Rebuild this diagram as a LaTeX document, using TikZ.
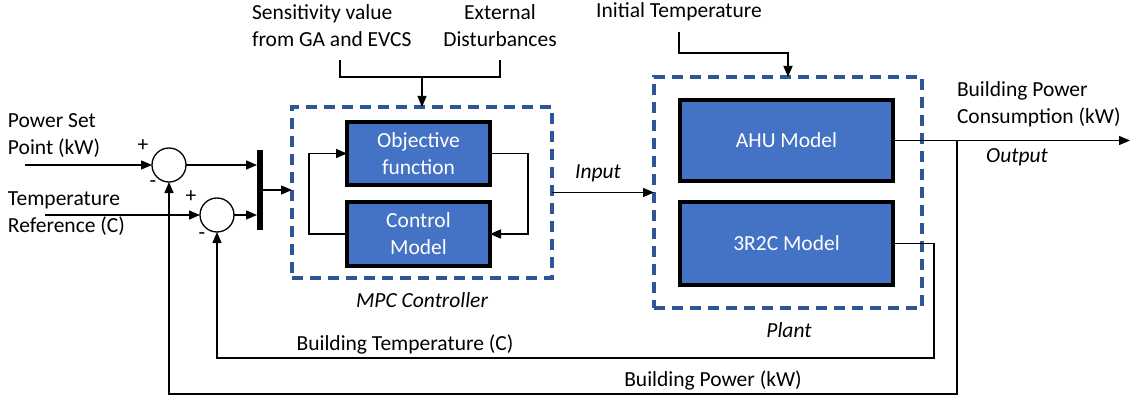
\documentclass[tikz,border=0pt]{standalone}
\usepackage{fontspec}
\setmainfont{Carlito}
\usetikzlibrary{arrows.meta,positioning}
\definecolor{boxblue}{HTML}{4472C4}
\definecolor{dashblue}{HTML}{2F5597}
\begin{document}
\begin{tikzpicture}[x=1pt,y=-1pt,
  every node/.style={font=\fontsize{21.5}{27}\selectfont, inner sep=0pt, outer sep=0pt},
  arr/.style={line width=1.3pt, -{Triangle[length=11pt,width=9pt]}},
  ln/.style={line width=1.3pt},
  sumnode/.style={draw, circle, line width=1.3pt, minimum size=34pt},
  dashbox/.style={draw=dashblue, line width=4pt, dash pattern=on 11pt off 7pt},
  model/.style={draw=black, fill=boxblue, line width=4.5pt, text=white, align=center},
  lbl/.style={align=left, anchor=west},
  ilbl/.style={font=\fontsize{21.5}{27}\selectfont\itshape}
]
\useasboundingbox (0,0) rectangle (1135,401);

% summing junctions and mux
\node[sumnode] (s1) at (169,165) {};
\node[sumnode] (s2) at (217,215) {};
\node[fill=black, minimum width=6pt, minimum height=80pt] (mux) at (260,190) {};

% MPC controller
\node[dashbox, minimum width=260pt, minimum height=171pt] (mpc) at (422,192.5) {};
\node[model, minimum width=143pt, minimum height=63pt] (obj) at (418.5,153.5) {Objective\\function};
\node[model, minimum width=143pt, minimum height=64pt] (ctrl) at (418.5,234) {Control\\Model};
\node[ilbl] (mpclbl) at (422,300) {MPC Controller};

% Plant
\node[dashbox, minimum width=268pt, minimum height=231pt] (plant) at (788,192.5) {};
\node[model, minimum width=213pt, minimum height=81pt] (ahu) at (786.5,140.5) {AHU Model};
\node[model, minimum width=213pt, minimum height=83pt] (r2c) at (786.5,243.5) {3R2C Model};
\node[ilbl] (plantlbl) at (789,330) {Plant};

% left labels
\node[lbl] (psp) at (8,136) {Power Set\\Point (kW)};
\node[lbl] (tref) at (8,213.5) {Temperature\\Reference (C)};
\node (p1) at (143,146) {+};
\node (m1) at (153,184) {-};
\node (p2) at (191,197) {+};
\node (m2) at (202,236) {-};

% top labels
\node[lbl] (sens) at (252,25.5) {Sensitivity value\\from GA and EVCS};
\node[align=center] (ext) at (500,25.5) {External\\Disturbances};
\node (itemp) at (679,12) {Initial Temperature};

% right and bottom labels
\node[lbl] (bpc) at (957,104) {Building Power\\Consumption (kW)};
\node[ilbl] (outlbl) at (1017,157) {Output};
\node[ilbl] (inlbl) at (598,173) {Input};
\node (btlbl) at (405,344) {Building Temperature (C)};
\node (bplbl) at (713,380) {Building Power (kW)};

% coordinates
\coordinate (in1) at (25,165);
\coordinate (in2) at (45,215);
\coordinate (sj) at (340,60);
\coordinate (ej) at (500,60);
\coordinate (mj) at (422,77);
\coordinate (it) at (679,32);
\coordinate (out) at (1130,140.5);
\coordinate (br) at (957,140.5);
\coordinate (fb1) at (169,394);
\coordinate (fb2) at (217,358);

% connectors
\draw[arr] (in1) -- (s1.west);
\draw[arr] (in2) -- (s2.west);
\draw[arr] (s1.east) -- (s1.east -| mux.west);
\draw[arr] (s2.east) -- (s2.east -| mux.west);
\draw[arr] (mux.east) -- (mux.east -| mpc.west);
\draw[arr] (ctrl.west) -- ++(-38,0) |- (obj.west);
\draw[arr] (obj.east) -- ++(38,0) |- (ctrl.east);
\draw[ln] (sj) -- ++(0,17) -| (ej);
\draw[arr] (mj) -- (mj |- mpc.north);
\draw[arr] (mpc.east) -- (plant.west);
\draw[arr] (it) -- ++(0,21) -| (plant.north);
\draw[arr] (ahu.east) -- (out);
\draw[arr] (br) |- (fb1) -- (s1.south);
\draw[arr] (r2c.east) -- ++(41,0) |- (fb2) -- (s2.south);
\end{tikzpicture}
\end{document}
